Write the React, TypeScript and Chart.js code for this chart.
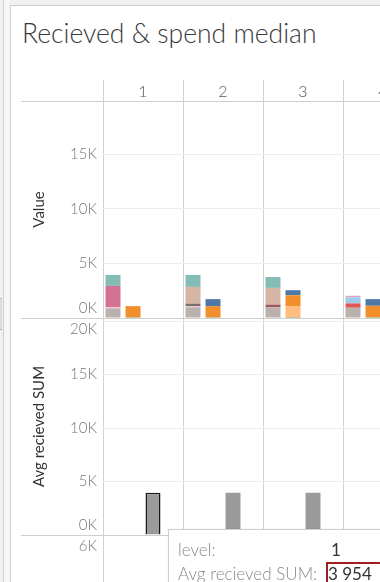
import React, { useEffect, useRef } from 'react';
import { Chart, registerables } from 'chart.js';

Chart.register(...registerables);

// ---------- data ----------
const levels = ['1', '2', '3', '4'];

// "Value" pane, stack A (received breakdown)
const recvGray = [890, 980, 980, 940];
const recvLightPink = [90, 90, 0, 0];
const recvDarkGray = [0, 250, 0, 0];
const recvMaroon = [0, 0, 250, 0];
const recvRed = [0, 0, 0, 400];
const recvPink = [1960, 0, 0, 0];
const recvBeige = [0, 1530, 1530, 0];
const recvLightBlue = [0, 0, 0, 550];
const recvTeal = [1010, 1100, 1000, 0];
const recvLavender = [0, 0, 0, 150];

// "Value" pane, stack B (spend breakdown)
const spendOlive = [90, 90, 90, 90];
const spendLightOrange = [0, 0, 1000, 0];
const spendOrange = [1000, 1000, 1000, 1030];
const spendBlue = [0, 640, 460, 610];

// "Avg recieved SUM" pane
const avgReceivedSum = [3954, 3954, 3954, 3954];
const placeholder = [null, null, null, null];

const valueTicks = [0, 5000, 10000, 15000];
const avgTicks = [0, 5000, 10000, 15000, 20000];
const lowerTicks = [6000];

const valueMax = 19900;
const avgMax = 20300;
const lowerMax = 6000;

// ---------- helpers ----------
const FONT = 'Lato, "Open Sans", sans-serif';

function seg(label: string, data: (number | null)[], color: string, stack: string, yAxisID = 'y', extra: any = {}) {
  return {
    label,
    data,
    backgroundColor: color,
    stack,
    yAxisID,
    borderWidth: 0,
    barPercentage: 0.75,
    categoryPercentage: 1,
    ...extra,
  };
}

const fmtK = (v: number) => `${Math.round(v / 1000)}K`;

const textPlugin = {
  id: 'tableauText',
  afterDraw(chart: any) {
    const { ctx, scales, chartArea } = chart;
    ctx.save();
    // pane borders
    ctx.strokeStyle = '#cfcfcf';
    ctx.lineWidth = 1;
    const borders = [chartArea.top, scales.y.bottom, scales.y2.bottom];
    borders.forEach((b: number) => {
      const yy = Math.round(b) + 0.5;
      ctx.beginPath();
      ctx.moveTo(21, yy);
      ctx.lineTo(chart.width, yy);
      ctx.stroke();
    });

    // column headers
    ctx.fillStyle = '#555';
    ctx.font = `300 16px ${FONT}`;
    ctx.textAlign = 'center';
    ctx.textBaseline = 'middle';
    levels.forEach((l, i) => {
      ctx.fillText(l, scales.x.getPixelForValue(i), chartArea.top - 9);
    });

    // tick labels
    ctx.fillStyle = '#777';
    ctx.font = `300 15px ${FONT}`;
    ctx.textAlign = 'right';
    const drawTicks = (scale: any, ticks: number[]) => {
      ticks.forEach((v) => {
        let py = scale.getPixelForValue(v);
        if (py > scale.bottom - 10) py = scale.bottom - 10;
        if (py < scale.top + 11) py = scale.top + 11;
        ctx.fillText(fmtK(v), 97, py);
      });
    };
    drawTicks(scales.y, valueTicks);
    drawTicks(scales.y2, avgTicks);
    drawTicks(scales.y3, lowerTicks);

    // axis titles
    ctx.fillStyle = '#333';
    ctx.font = `400 15px ${FONT}`;
    ctx.textAlign = 'center';
    const title = (text: string, scale: any) => {
      ctx.save();
      ctx.translate(39, (scale.top + scale.bottom) / 2);
      ctx.rotate(-Math.PI / 2);
      ctx.fillText(text, 0, 0);
      ctx.restore();
    };
    title('Value', scales.y);
    title('Avg recieved SUM', scales.y2);
    ctx.restore();
  },
};

function paneScale(max: number, ticks: number[], weight: number) {
  return {
    type: 'linear',
    position: 'left',
    stack: 'panes',
    stackWeight: 1,
    weight,
    stacked: true,
    min: 0,
    max,
    afterBuildTicks: (s: any) => {
      s.ticks = ticks.map((v) => ({ value: v }));
    },
    ticks: { display: false },
    grid: {
      drawTicks: false,
      color: (c: any) => (c.tick && (c.tick.value === 0 || c.tick.value === max) ? 'rgba(0,0,0,0)' : '#ededed'),
      lineWidth: 1,
    },
    border: { display: false },
  };
}

export default function App() {
  const ref = useRef<HTMLCanvasElement | null>(null);

  useEffect(() => {
    if (!ref.current) return;
    const chart = new Chart(ref.current, {
      type: 'bar',
      data: {
        labels: levels,
        datasets: [
          seg('gray', recvGray, '#bab0ac', 'A'),
          seg('light pink', recvLightPink, '#fabfd2', 'A'),
          seg('dark gray', recvDarkGray, '#79706e', 'A'),
          seg('maroon', recvMaroon, '#9d5a5a', 'A'),
          seg('red', recvRed, '#e15759', 'A'),
          seg('pink', recvPink, '#d37295', 'A'),
          seg('beige', recvBeige, '#d7b5a6', 'A'),
          seg('light blue', recvLightBlue, '#a0cbe8', 'A'),
          seg('teal', recvTeal, '#86bcb6', 'A'),
          seg('lavender', recvLavender, '#d4a6c8', 'A'),
          seg('olive', spendOlive, '#8a8a2a', 'B'),
          seg('light orange', spendLightOrange, '#ffbe7d', 'B'),
          seg('orange', spendOrange, '#f28e2b', 'B'),
          seg('blue', spendBlue, '#4e79a7', 'B'),
          seg('Avg recieved SUM', avgReceivedSum, '#9a9a9a', 'C', 'y2', {
            borderWidth: [1.5, 0, 0, 0],
            borderColor: '#1a1a1a',
          }),
          seg('slot', placeholder, '#ffffff', 'D', 'y2'),
        ],
      },
      options: {
        animation: false,
        responsive: false,
        maintainAspectRatio: false,
        events: [],
        layout: { padding: { left: 103, top: 80, right: 7, bottom: 8 } },
        plugins: { legend: { display: false }, tooltip: { enabled: false } },
        scales: {
          x: {
            type: 'category',
            position: 'top',
            offset: true,
            stacked: true,
            grid: {
              offset: true,
              color: '#d2d2d2',
              tickColor: '#d2d2d2',
              lineWidth: 1,
              drawTicks: true,
              tickLength: 21,
            },
            ticks: { display: false },
            border: { display: false },
          },
          y: paneScale(valueMax, valueTicks, 3),
          y2: paneScale(avgMax, avgTicks, 2),
          y3: paneScale(lowerMax, lowerTicks, 1),
        } as any,
      },
      plugins: [textPlugin],
    } as any);
    return () => chart.destroy();
  }, []);

  return (
    <div style={{ position: 'fixed', left: 0, top: 0, width: 380, height: 582, overflow: 'hidden', background: '#f0f0f0', fontFamily: FONT }}>
      {/* left strip */}
      <div style={{ position: 'absolute', left: 3, top: 0, width: 1, height: 582, background: '#d0d0d0' }} />
      <div style={{ position: 'absolute', left: 4, top: 0, width: 6, height: 582, background: '#f7f7f7' }} />
      <div style={{ position: 'absolute', left: 0, top: 298, width: 2, height: 30, background: '#dcdcdc', borderTop: '1px solid #b8b8b8', borderBottom: '1px solid #b8b8b8' }} />
      {/* panel */}
      <div style={{ position: 'absolute', left: 10, top: 5, width: 380, height: 590, background: '#ffffff', borderLeft: '1px solid #cdcdcd', borderTop: '1px solid #cdcdcd' }} />
      <div style={{ position: 'absolute', left: 22, top: 19, fontSize: 26.5, lineHeight: '28px', fontWeight: 300, color: '#3a3a3a', whiteSpace: 'nowrap' }}>
        Recieved &amp; spend median
      </div>
      <canvas ref={ref} width={430} height={760} style={{ position: 'absolute', left: 0, top: 0, width: 430, height: 760 }} />
      {/* tooltip */}
      <div style={{ position: 'absolute', left: 168, top: 529, width: 240, height: 80, background: '#ffffff', border: '1px solid #d0d0d0', boxShadow: '0 0 2px rgba(0,0,0,0.08)' }}>
        <div style={{ position: 'absolute', left: 9, top: 10, fontSize: 17, lineHeight: '20px', color: '#8a8a8a', fontWeight: 300, whiteSpace: 'nowrap' }}>level:</div>
        <div style={{ position: 'absolute', left: 162, top: 10, fontSize: 17, lineHeight: '20px', color: '#333', whiteSpace: 'nowrap' }}>1</div>
        <div style={{ position: 'absolute', left: 9, top: 34, fontSize: 17, lineHeight: '20px', color: '#8a8a8a', fontWeight: 300, whiteSpace: 'nowrap' }}>Avg recieved SUM:</div>
        <div style={{ position: 'absolute', left: 157, top: 32, width: 80, height: 30, border: '2px solid #a21d1d', boxSizing: 'border-box' }} />
        <div style={{ position: 'absolute', left: 159, top: 34, fontSize: 17, lineHeight: '20px', color: '#333', whiteSpace: 'nowrap' }}>3 954</div>
      </div>
    </div>
  );
}
